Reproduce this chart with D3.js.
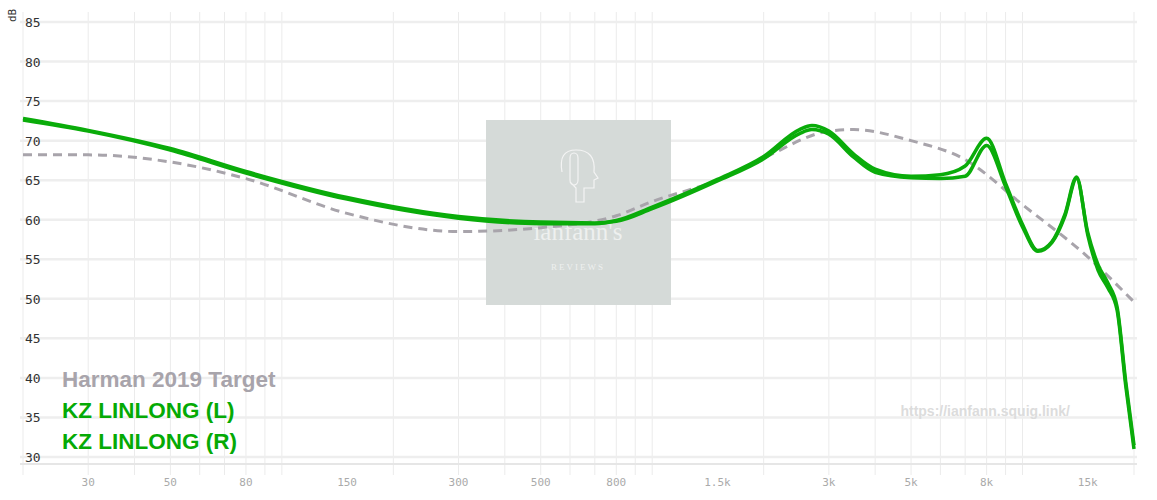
<!DOCTYPE html>
<html><head><meta charset="utf-8">
<script src="https://cdn.jsdelivr.net/npm/d3@7"></script>
<style>body{margin:0;background:#fff}svg{font-family:"DejaVu Sans Mono",monospace}</style>
</head><body>
<svg id="c" width="1157" height="500"></svg>
<script>
// frequencies (Hz) the curves are read at
const freqs = [20,30,50,80,150,300,500,700,800,1000,1500,2000,2500,2700,3000,3500,4000,5000,6000,7000,8000,9000,10000,11000,12000,13000,14000,15000,16000,17000,18000,19000,20000];
const linL = [72.6,71.2,68.8,65.9,62.6,60.2,59.5,59.5,59.9,61.6,65.1,68.0,71.4,71.9,71.2,68.3,66.4,65.5,65.7,66.8,70.3,64.6,59.4,56.1,57.2,60.6,65.4,58.1,53.6,51.4,48.6,39.0,31.0];
const linR = [72.8,71.3,69.0,66.1,62.8,60.4,59.7,59.6,59.8,61.4,64.9,67.7,70.9,71.4,70.8,67.9,66.0,65.3,65.2,65.5,69.4,64.2,59.1,56.0,57.1,60.4,65.2,58.4,54.3,52.0,49.0,39.5,31.5];
const targetF = [20,30,50,80,150,300,500,800,1000,1500,2000,3000,3500,5000,7000,10000,15000,20000];
const target = [68.2,68.2,67.3,65.2,60.8,58.5,59.0,60.5,62.3,65.0,67.8,71.2,71.4,70.0,67.6,61.9,55.3,49.6];
const xTicks = [30,50,80,150,300,500,800,1500,3000,5000,8000,15000];
const yTicks = [30,35,40,45,50,55,60,65,70,75,80,85];

const svg = d3.select("#c");
const x = d3.scaleLog().domain([20,20000]).range([23,1134]);
const y = d3.scaleLinear().domain([30,85]).range([457,22]);

// grid
const minor = [];
[10,100,1000,10000].forEach(d => { for (let i=1;i<10;i++){ const v=d*i; if(v>=20&&v<=20000) minor.push(v);} });
svg.append("g").selectAll("line").data(minor).join("line")
  .attr("x1",d=>x(d)).attr("x2",d=>x(d)).attr("y1",12).attr("y2",475)
  .attr("stroke","#ebebeb").attr("stroke-width",1);
svg.append("g").selectAll("line").data(d3.range(30,86,5)).join("line")
  .attr("x1",20).attr("x2",1137).attr("y1",d=>y(d)).attr("y2",d=>y(d))
  .attr("stroke","#eeeeee").attr("stroke-width",2.5);
svg.append("line").attr("x1",20).attr("x2",1137).attr("y1",464).attr("y2",464).attr("stroke","#e6e6e6").attr("stroke-width",2);

svg.append("g").selectAll("text").data(yTicks).join("text")
  .attr("x",25).attr("y",d=>y(d)+5).attr("font-size",13).attr("fill","#333").text(d=>d);
svg.append("text").attr("x",16).attr("y",22).attr("font-size",11).attr("fill","#333")
  .attr("transform","rotate(-90,16,22)").text("dB");
svg.append("g").selectAll("text").data(xTicks).join("text")
  .attr("x",d=>x(d)).attr("y",486).attr("text-anchor","middle").attr("font-size",11).attr("fill","#aaa")
  .text(d=>d>=1000 ? (d/1000)+"k" : d);

// watermark
svg.append("rect").attr("x",486).attr("y",120).attr("width",185).attr("height",185).attr("fill","#d5dad8");
svg.append("text").attr("x",578).attr("y",240).attr("text-anchor","middle").attr("font-family","Liberation Serif")
  .attr("font-size",25).attr("fill","#eef0ef").text("ianfann's");
svg.append("text").attr("x",578).attr("y",270).attr("text-anchor","middle").attr("font-family","Liberation Serif")
  .attr("font-size",9).attr("letter-spacing",2).attr("fill","#eef0ef").text("REVIEWS");
svg.append("path").attr("d","M562,172 q-4,-22 14,-22 q20,0 18,22 l4,6 l-4,2 l0,8 l-10,0 l0,14 l-8,0 l0,-14 l-6,-6 M570,158 l0,22 a4,5 0 0,0 8,0 l0,-22 a4,5 0 0,0 -8,0")
  .attr("fill","none").attr("stroke","#f4f4f4").attr("stroke-width",1.2);

const line = d3.line().x(d=>x(d[0])).y(d=>y(d[1])).curve(d3.curveMonotoneX);
svg.append("path").attr("d",line(targetF.map((f,i)=>[f,target[i]])))
  .attr("fill","none").attr("stroke","#a8a4ab").attr("stroke-width",3).attr("stroke-dasharray","9,6");
[linL,linR].forEach(s => {
  svg.append("path").attr("d",line(freqs.map((f,i)=>[f,s[i]])))
    .attr("fill","none").attr("stroke","#0aac0a").attr("stroke-width",3.5);
});

const leg = [["Harman 2019 Target","#a8a4ab"],["KZ LINLONG (L)","#05aa05"],["KZ LINLONG (R)","#05aa05"]];
svg.append("g").selectAll("text").data(leg).join("text")
  .attr("x",62).attr("y",(d,i)=>387+i*31).attr("font-family","Liberation Sans").attr("font-weight","bold")
  .attr("font-size",22.5).attr("fill",d=>d[1]).text(d=>d[0]);
svg.append("text").attr("x",1070).attr("y",416).attr("text-anchor","end").attr("font-family","Liberation Sans")
  .attr("font-weight","bold").attr("font-size",14).attr("fill","#dcdcdc").text("https://ianfann.squig.link/");
</script>
</body></html>
